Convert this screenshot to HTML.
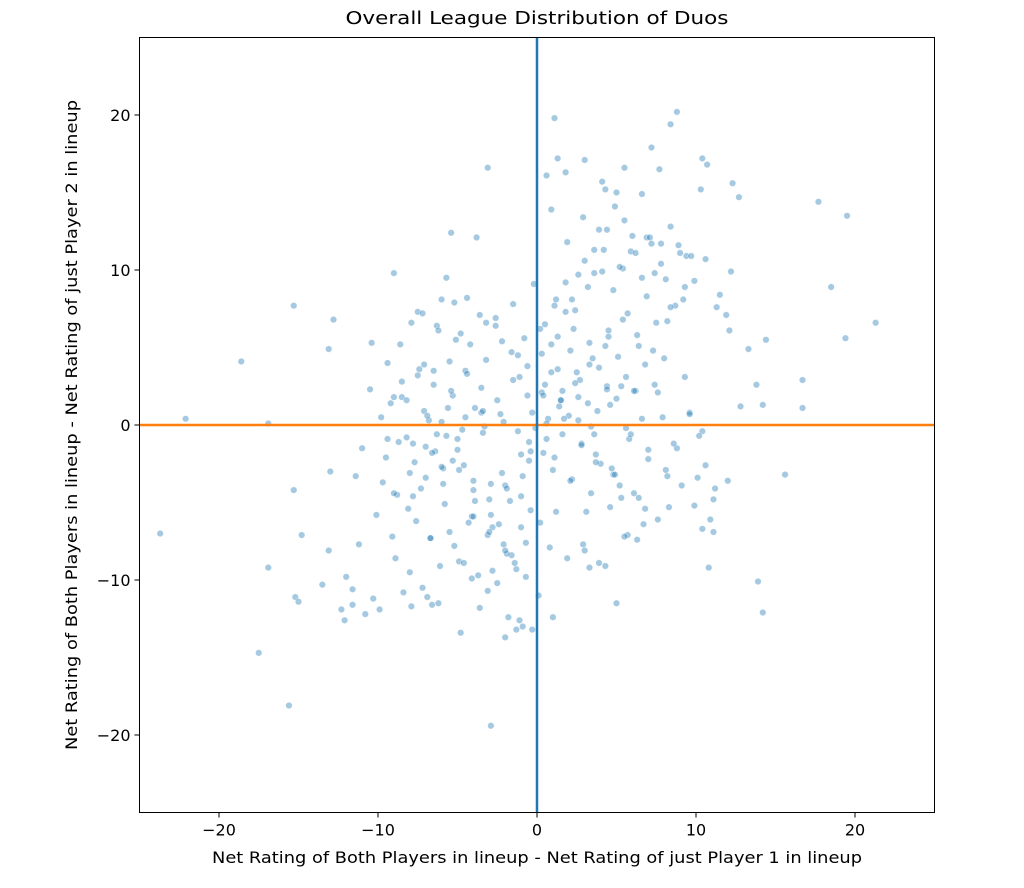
<!DOCTYPE html>
<html><head><meta charset="utf-8"><style>
body{margin:0;background:#fff;}
svg text{font-family:"DejaVu Sans","Liberation Sans",sans-serif;fill:#000;}
</style></head><body>
<svg id="chart" width="1024" height="883">
<text x="537" y="24" text-anchor="middle" font-size="18" textLength="383" lengthAdjust="spacingAndGlyphs">Overall League Distribution of Duos</text>
<g id="dots"></g>
<g id="axes"></g>
<text x="537" y="863" text-anchor="middle" font-size="16" textLength="650" lengthAdjust="spacingAndGlyphs">Net Rating of Both Players in lineup - Net Rating of just Player 1 in lineup</text>
<text transform="translate(77,425) rotate(-90)" text-anchor="middle" font-size="16" textLength="650" lengthAdjust="spacingAndGlyphs">Net Rating of Both Players in lineup - Net Rating of just Player 2 in lineup</text>
</svg>
<script>
const xTicks=[-20,-10,0,10,20];
const yTicks=[-20,-10,0,10,20];
const ptsX=[-23.7,-22.1,-18.6,-17.5,-16.9,-16.9,-15.6,-15.3,-15.3,-15.2,-15,-14.8,-13.5,-13.1,-13,-13.1,-12.8,-12.3,-12.1,-12,-11.6,-11.6,-11.2,-11,-10.8,-10.3,-10.4,-9.9,-9,-9.4,-9.1,-8.4,-7.9,-7.2,-6.9,-6.6,-6.2,-7.9,-7.5,-6,-5.7,-5.4,-4.8,-3.8,-3.1,-2.9,-3.6,-2,-1.3,-0.9,-0.3,0.1,1,1.1,0.6,1.3,1.8,3,4.1,4.3,5.5,5,7.2,7.7,8.4,8.8,10.3,10.4,10.7,12.3,12.7,17.7,19.5,18.5,19.4,21.3,15.6,16.7,16.7,13.9,14.2,14.4,14.2,13.8,10.9,11.1,10.4,9.9,10.8,11.1,5,3,3.3,6.3,5.7,
-9.5,-8.8,-8.2,-7.6,-7,-6.4,-5.8,-5.2,-4.6,-4,-3.4,-2.8,-2.2,-1.6,-1,-0.4,-9.2,-8.5,-7.8,-7.1,-6.5,-5.9,-5.3,-4.7,-4.1,-3.5,-2.9,-2.3,-1.7,-1.1,-0.5,-8.9,-8,-7.3,-6.7,-6.1,-5.5,-4.9,-4.3,-3.7,-3.1,-2.5,-1.9,-1.3,-0.7,-10.5,-9.7,-8.6,-7.4,-6.3,-5.1,-4.4,-3.2,-2.6,-1.5,-0.8,-0.2,-6.8,-5.6,-4.5,-3.3,-2.1,-1.2,
0.3,0.9,1.5,2.1,2.7,3.3,3.9,4.5,5.1,5.7,6.3,6.9,7.5,8.1,8.7,9.3,0.5,1.2,1.8,2.4,3,3.6,4.2,4.8,5.4,6,6.6,7.2,7.8,8.4,9,9.9,10.6,11.5,12.2,0.4,1,1.6,2.2,2.8,3.4,4,4.6,5.2,5.8,6.4,7,7.6,8.2,8.8,9.6,10.4,11.2,12,0.7,1.4,2,2.6,3.2,3.8,4.4,5,5.6,6.2,6.8,7.4,8,0.2,0.8,1.9,3.1,4.3,5.5,6.7,
-9,-8,-7,-6,-5,-4,-3,-2,-1,-8.5,-7.5,-6.5,-5.5,-4.5,-3.5,-2.5,-1.5,-0.5,-7.2,-6.2,-5.2,-4.2,-3.2,-2.2,-1.2,-9.8,-5.7,-3.9,-0.6,
0.6,1.6,2.6,3.6,4.6,5.6,6.6,7.6,8.6,9.6,10.6,0.9,1.9,2.9,3.9,4.9,5.9,6.9,8.9,11.9,13.3,0.3,1.3,2.3,3.3,4.3,5.3,7.3,9.3,12.8,1.1,2.1,3.7,4.7,6.1,8.3,10.1,
-8.7,-7.7,-6.9,-5.9,-4.9,-3.9,-2.9,-1.9,-0.9,-8.2,-7.1,-6,-5,-4,-3,-2,-1,-0.1,-9.4,-6.6,-5.4,-4.4,-3.4,-2.4,-1.4,-0.3,-7.8,-6.3,-4.8,-3.6,-2.6,-1.6,-0.6,-10.1,-9,-5.3,-4.1,-3.1,-2.1,-1.1,-0.4,-11.4,-8.1,-6.7,-4.6,-2.8,-1.8,-0.7,
0.4,1.3,2.4,3.5,4.5,5.4,6.4,7.4,8.4,9.4,0.6,1.7,2.8,3.7,4.8,5.9,7,8.1,9.1,10.2,0.2,1.1,2.2,3.2,4.1,5.2,6.2,7.1,8.2,9.2,11.3,0.9,1.8,2.6,3.6,4.4,5.5,6.6,7.8,9.7,12.1,0.5,1.5,2.5,3.4,4.4,6.1,7.9,1.2,2.9,4.9,6.8,3.9,5.3];
const ptsY=[-7,0.4,4.1,-14.7,-9.2,0.1,-18.1,7.7,-4.2,-11.1,-11.4,-7.1,-10.3,-8.1,-3,4.9,6.8,-11.9,-12.6,-9.8,-10.6,-11.6,-7.7,-1.5,-12.2,-11.2,5.3,-11.9,9.8,4,-7.2,-10.8,-11.7,-10.5,-11.1,-11.6,-11.5,6.6,7.3,8.1,9.5,12.4,-13.4,12.1,16.6,-19.4,-11.8,-13.7,-13.2,-13,-13.2,-11,-12.4,19.8,16.1,17.2,16.3,17.1,15.7,15.2,16.6,15,17.9,16.5,19.4,20.2,15.2,17.2,16.8,15.6,14.7,14.4,13.5,8.9,5.6,6.6,-3.2,2.9,1.1,-10.1,-12.1,5.5,1.3,2.6,-6.1,-6.9,-6.7,-5.2,-9.2,-4.8,-11.5,-8.1,-9.2,-7.4,-7.1,
-2.1,-4.5,-0.8,-6.2,-3.4,-1.7,-5.1,-7.8,-2.6,-4.2,-0.5,-6.6,-3.1,-8.4,-1.9,-5.5,1.4,2.8,-1.2,0.9,3.5,-2.8,1.9,-0.3,-5.9,2.4,-3.8,0.7,-4.9,3.1,-2.3,-8.6,-9.5,-4.1,-7.3,-9.1,-6.9,-8.8,-6.3,-9.7,-7.1,-10.2,-8.3,-9.3,-7.6,2.3,-3.7,5.2,3.6,6.4,5.5,8.2,4.2,6.9,7.8,5.6,9.1,0.3,1.1,0.5,-0.1,0.2,-0.4,
2.1,3.4,1.6,4.8,2.9,5.3,3.7,6.1,4.4,7.2,5.8,8.3,6.6,9.4,7.7,8.9,6.5,8.1,9.2,7.4,10.6,9.8,11.3,8.7,10.1,12.2,9.5,11.7,10.4,12.8,11.1,9.3,10.7,8.4,9.9,-1.8,-2.9,-0.6,-3.5,-1.2,-4.4,-2.5,-5.3,-3.9,-0.9,-4.7,-2.2,-6.1,-3.3,-1.5,0.8,-0.4,-4.1,-3.6,0.4,1.2,0.6,1.8,1.4,0.9,2.5,1.7,3.1,2.2,3.9,2.6,4.3,-6.3,-7.9,-8.6,-5.6,-9.1,-7.2,-6.4,
-4.4,-3.1,-1.4,-2.7,-0.9,-5.9,-4.8,-3.9,-6.6,1.8,3.2,2.6,4.1,3.5,0.8,1.6,2.9,-1.1,7.2,6.1,7.9,5.2,6.6,5.4,4.5,0.5,-0.7,1.1,3.8,
0.1,2.2,0.3,-0.6,1.3,-0.2,0.4,2.1,-1.2,0.7,-2.6,13.9,11.8,13.4,12.6,14.1,11.2,12.1,11.6,7.1,4.9,4.6,5.7,6.2,3.9,5.1,2.5,4.8,3.1,1.2,-2.1,-3.6,-1.9,-2.8,-4.4,-5.3,-3.4,
-1.1,-2.4,0.6,-3.8,-2.9,-4.9,-5.8,-4.1,-3.3,1.6,3.9,0.2,-1.6,-3.6,-6.9,-8.1,-4.6,-0.2,-0.9,-1.8,2.2,3.3,0.9,-6.4,-8.9,0.8,-4.6,-0.6,5.9,7.1,6.4,4.7,1.9,-5.8,1.8,-2.3,-9.9,-10.7,-7.7,-12.6,-1.7,-3.3,-5.4,-7.3,-8.9,-9.4,-12.4,-9.8,
1.9,3.6,2.7,4.3,5.7,6.8,5.1,9.8,7.6,10.9,-0.9,0.4,-1.3,-2.4,-3.2,-0.6,-1.6,-2.9,-3.9,-0.7,6.2,7.7,8.1,8.9,9.9,10.2,11.1,12.1,6.7,8.1,7.6,5.2,7.3,9.7,11.3,12.6,13.2,14.9,11.7,10.9,6.1,2.6,1.6,3.4,-0.1,2.3,2.2,0.5,-5.6,-7.7,-3.2,-5.4,-8.9,-4.7];
const X0=139.5,X1=934.5,Y0=37.5,Y1=812.5,MIN=-25,MAX=25;
const sx=v=>X0+(v-MIN)/(MAX-MIN)*(X1-X0);
const sy=v=>Y1-(v-MIN)/(MAX-MIN)*(Y1-Y0);
const NS='http://www.w3.org/2000/svg';
const dots=document.getElementById('dots');
const axes=document.getElementById('axes');
for(let i=0;i<Math.min(ptsX.length,ptsY.length);i++){
  const c=document.createElementNS(NS,'circle');
  c.setAttribute('cx',sx(ptsX[i]));c.setAttribute('cy',sy(ptsY[i]));c.setAttribute('r',3.3);
  c.setAttribute('fill','rgba(31,119,180,0.4)');c.setAttribute('stroke','rgba(255,255,255,0.6)');c.setAttribute('stroke-width','0.6');
  
  
  dots.appendChild(c);
}
function line(x1,y1,x2,y2,col,w,name){
  const l=document.createElementNS(NS,'line');
  l.setAttribute('x1',x1);l.setAttribute('y1',y1);l.setAttribute('x2',x2);l.setAttribute('y2',y2);
  l.setAttribute('stroke',col);l.setAttribute('stroke-width',w);
  
  
  axes.appendChild(l);
}
line(X0,sy(0),X1,sy(0),'#ff7f0e',2.5,'horizontal-zero-line');
line(sx(0),Y0,sx(0),Y1,'#1f77b4',2.5,'vertical-zero-line');
const fr=document.createElementNS(NS,'rect');
fr.setAttribute('x',X0);fr.setAttribute('y',Y0);fr.setAttribute('width',X1-X0);fr.setAttribute('height',Y1-Y0);
fr.setAttribute('fill','none');fr.setAttribute('stroke','#000');fr.setAttribute('stroke-width','1');


axes.appendChild(fr);
function txt(x,y,s,anchor,name){
  const t=document.createElementNS(NS,'text');
  t.setAttribute('x',x);t.setAttribute('y',y);t.setAttribute('text-anchor',anchor);t.setAttribute('font-size','16');
  t.textContent=s;
  
  
  axes.appendChild(t);
}
xTicks.forEach(v=>{line(sx(v),Y1,sx(v),Y1+5,'#000',1,'x-tick');txt(sx(v),Y1+23,v<0?'\u2212'+(-v):String(v),'middle','x-tick-label');});
yTicks.forEach(v=>{line(X0-5,sy(v),X0,sy(v),'#000',1,'y-tick');txt(X0-9,sy(v)+6,v<0?'\u2212'+(-v):String(v),'end','y-tick-label');});
</script>
</body></html>
